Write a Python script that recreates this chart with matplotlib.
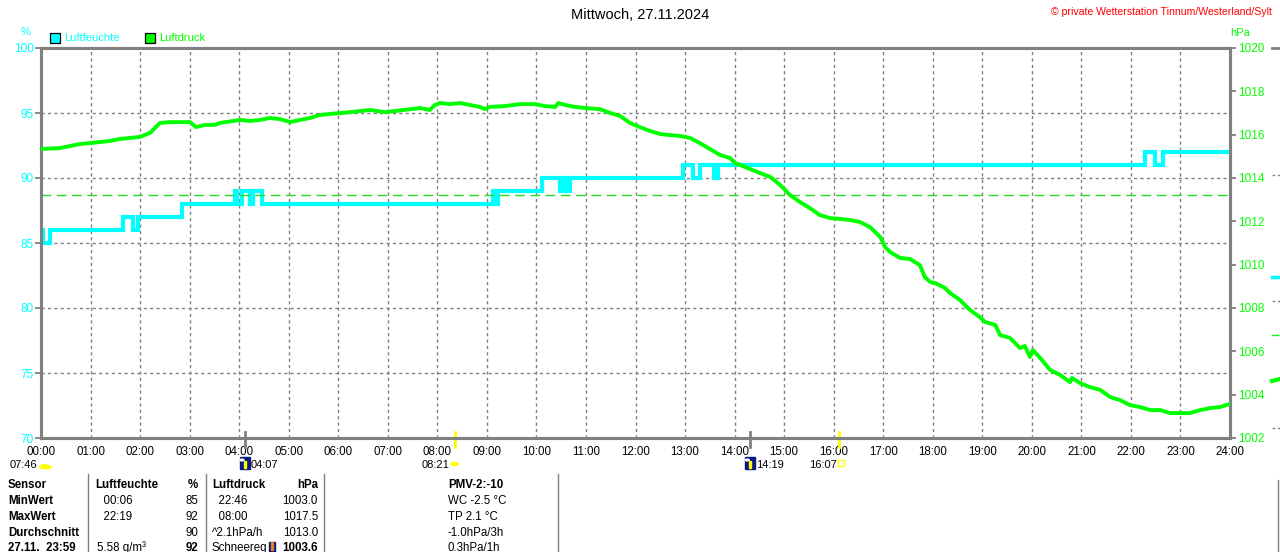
import matplotlib
matplotlib.use("Agg")
import matplotlib.pyplot as plt
from matplotlib.patches import Rectangle, Circle, Wedge
from matplotlib.lines import Line2D

plt.rcParams['font.family'] = ['Liberation Sans', 'DejaVu Sans']

# ---------------- data ----------------
title = "Mittwoch, 27.11.2024"
copyright_text = "© private Wetterstation Tinnum/Westerland/Sylt"

hour_labels = ["%02d:00" % h for h in range(25)]
hum_ticks = [70, 75, 80, 85, 90, 95, 100]
pres_ticks = [1002, 1004, 1006, 1008, 1010, 1012, 1014, 1016, 1018, 1020]

# Luftfeuchte (%) – step series, time in hours
hum_t = [0, 0.04, 0.18, 1.655, 1.857, 1.958, 2.846, 3.916, 3.956, 4.057, 4.219,
         4.28, 4.461, 9.124, 9.164, 9.225, 10.113, 10.477, 10.55, 10.6, 10.678,
         12.959, 13.161, 13.302, 13.585, 13.666, 22.285, 22.487, 22.648, 24.0]
hum_v = [86, 85, 86, 87, 86, 87, 88, 89, 88, 89, 88,
         89, 88, 89, 88, 89, 90, 89, 90, 89, 90,
         91, 90, 91, 90, 91, 92, 91, 92, 92]

# Luftdruck (hPa), time in hours
pres_t = [0.00, 0.38, 0.59, 0.79, 0.99, 1.19, 1.39, 1.59, 1.80, 2.00, 2.20, 2.30,
          2.40, 2.60, 3.01, 3.13, 3.31, 3.51, 3.61, 4.02, 4.22, 4.42, 4.62, 4.82,
          5.03, 5.23, 5.43, 5.63, 6.04, 6.24, 6.64, 6.94, 7.15, 7.65, 7.85, 7.95,
          8.05, 8.26, 8.46, 8.66, 8.86, 8.96, 9.06, 9.37, 9.67, 9.97, 10.17, 10.38,
          10.44, 10.58, 10.78, 10.98, 11.28, 11.49, 11.69, 11.89, 12.09, 12.29,
          12.50, 12.70, 12.90, 13.10, 13.30, 13.50, 13.71, 13.91, 14.01, 14.21,
          14.51, 14.72, 14.92, 15.12, 15.32, 15.52, 15.72, 15.93, 16.13, 16.33,
          16.53, 16.73, 16.94, 17.04, 17.14, 17.34, 17.54, 17.74, 17.84, 17.95,
          18.05, 18.25, 18.35, 18.55, 18.75, 18.95, 19.06, 19.26, 19.36, 19.56,
          19.76, 19.86, 19.96, 20.02, 20.17, 20.37, 20.57, 20.77, 20.81, 20.97,
          21.17, 21.38, 21.58, 21.78, 21.98, 22.18, 22.39, 22.59, 22.79, 22.99,
          23.19, 23.40, 23.60, 23.80, 24.00]
pres_v = [1015.34, 1015.38, 1015.48, 1015.57, 1015.61, 1015.66, 1015.71, 1015.80,
          1015.85, 1015.90, 1016.08, 1016.31, 1016.54, 1016.58, 1016.58, 1016.35,
          1016.45, 1016.45, 1016.54, 1016.68, 1016.63, 1016.68, 1016.77, 1016.72,
          1016.58, 1016.68, 1016.77, 1016.91, 1017.00, 1017.04, 1017.14, 1017.04,
          1017.09, 1017.23, 1017.14, 1017.37, 1017.46, 1017.41, 1017.46, 1017.37,
          1017.28, 1017.18, 1017.28, 1017.32, 1017.41, 1017.41, 1017.32, 1017.28,
          1017.46, 1017.37, 1017.28, 1017.23, 1017.18, 1017.00, 1016.86, 1016.54,
          1016.35, 1016.17, 1016.03, 1015.98, 1015.94, 1015.85, 1015.61, 1015.34,
          1015.06, 1014.92, 1014.69, 1014.51, 1014.23, 1014.05, 1013.68, 1013.21,
          1012.89, 1012.61, 1012.29, 1012.15, 1012.11, 1012.06, 1011.97, 1011.74,
          1011.28, 1010.81, 1010.58, 1010.31, 1010.26, 1009.98, 1009.43, 1009.20,
          1009.15, 1008.92, 1008.69, 1008.37, 1007.91, 1007.58, 1007.35, 1007.22,
          1006.75, 1006.62, 1006.15, 1006.25, 1005.74, 1006.06, 1005.69, 1005.14,
          1004.91, 1004.58, 1004.77, 1004.54, 1004.35, 1004.22, 1003.89, 1003.75,
          1003.52, 1003.43, 1003.29, 1003.29, 1003.15, 1003.15, 1003.15, 1003.29,
          1003.38, 1003.43, 1003.57]

pres_avg_line = 1013.2

# astronomical events (hours)
sun_events = [8.35, 16.117]          # 08:21, 16:07
moon_events = [4.117, 14.317]        # 04:07, 14:19

# table
table_rows = [
    ["Sensor", "Luftfeuchte", "%", "Luftdruck", "hPa", "PMV-2:-10"],
    ["MinWert", "  00:06", "85", "  22:46", "1003.0", "WC -2.5 °C"],
    ["MaxWert", "  22:19", "92", "  08:00", "1017.5", "TP 2.1 °C"],
    ["Durchschnitt", "", "90", "^2.1hPa/h", "1013.0", "-1.0hPa/3h"],
    ["27.11.  23:59", "5.58 g/m³", "92", "Schneereg", "1003.6", "0.3hPa/1h"],
]

# ---------------- styling helpers ----------------
W, H = 1280, 552
GREY = '#808080'
CYAN = '#00ffff'
GREEN = '#00ff00'


def F(px, py):
    return (px / W, 1 - py / H)


fig = plt.figure(figsize=(W / 100, H / 100), dpi=100)
fig.patch.set_facecolor('white')

ax = fig.add_axes([41 / W, (H - 438) / H, 1189 / W, 390 / H])
ax.set_xlim(0, 24)
ax.set_ylim(70, 100)
ax2 = ax.twinx()
ax2.set_ylim(1002, 1020)
ax2.set_xlim(0, 24)

for a in (ax, ax2):
    for s in a.spines.values():
        s.set_color(GREY)
        s.set_linewidth(2.2)

# grid
for h in range(1, 24):
    ax.axvline(h, color=GREY, lw=1, ls=(0, (2.3, 2.3)), zorder=1)
for v in [75, 80, 85, 90, 95]:
    ax.axhline(v, color=GREY, lw=1, ls=(0, (2.3, 2.3)), zorder=1)

ax.set_xticks(range(25))
ax.set_xticklabels(hour_labels)
ax.tick_params(axis='x', length=0, pad=6, labelsize=8.3, labelcolor='black')
ax.set_yticks(hum_ticks)
ax.tick_params(axis='y', length=4, width=1.3, color=GREY, labelcolor=CYAN,
               labelsize=8.5, pad=1, direction='out')
ax2.set_yticks(pres_ticks)
ax2.tick_params(axis='y', length=4, width=1.3, color=GREY, labelcolor=GREEN,
                labelsize=8.5, pad=2, direction='out')

# data lines
ax.plot(hum_t, hum_v, drawstyle='steps-post', color=CYAN, lw=3.0,
        solid_joinstyle='miter', zorder=3)
ax2.axhline(pres_avg_line, color='#22dd22', lw=1.0, ls=(0, (7, 4)), zorder=2)
ax2.plot(pres_t, pres_v, color=GREEN, lw=2.8, zorder=4)

# sun / moon markers below the axis
xt = ax.get_xaxis_transform()
for t in sun_events:
    ax.plot([t, t], [0.016, -0.024], transform=xt, color='#ffff00', lw=2,
            clip_on=False, zorder=5)
for t in moon_events:
    ax.plot([t, t], [0.016, -0.024], transform=xt, color=GREY, lw=2,
            clip_on=False, zorder=5)

fig.canvas.draw()


def xpix(t):
    return ax.transData.transform((t, 70))[0] * W / fig.bbox.width


ROW_Y = 464.5
EVF = 8.0
# 07:46 label and half sun at left
fig.text(*F(10, ROW_Y), "07:46", fontsize=EVF, va='center', ha='left')
fig.add_artist(Wedge(F(45, 467), 5 / W, 0, 180, color='#ffff00',
                     transform=fig.transFigure))
fig.add_artist(Rectangle(F(40, 468), 10 / W, 2 / H, color='#ffff00',
                         transform=fig.transFigure))

# moon icons
for t, lab in zip(moon_events, ["04:07", "14:19"]):
    px = xpix(t)
    fig.add_artist(Rectangle(F(px - 5, 469), 10 / W, 12 / H, color='#0a1a80',
                             transform=fig.transFigure))
    fig.add_artist(Rectangle(F(px - 1, 468), 2 / W, 7 / H, color='#ffff00',
                             transform=fig.transFigure))
    fig.add_artist(Circle(F(px - 3, 460), 2 / W, color='white',
                          transform=fig.transFigure))
    fig.text(*F(px + 6, ROW_Y), lab, fontsize=EVF, va='center', ha='left')

# sunrise / sunset icons
px = xpix(sun_events[0])
fig.add_artist(Circle(F(px, 464), 3.5 / W, color='#ffff00', transform=fig.transFigure))
fig.text(*F(px - 5, ROW_Y), "08:21", fontsize=EVF, va='center', ha='right')
px = xpix(sun_events[1])
fig.add_artist(Rectangle(F(px - 1, 466), 6 / W, 6 / H, fill=False, ec='#ffff00',
                         lw=1, transform=fig.transFigure))
fig.text(*F(px - 3, ROW_Y), "16:07", fontsize=EVF, va='center', ha='right')

# titles / axis labels / legend
fig.text(*F(640, 15), title, fontsize=10.5, ha='center', va='center')
fig.text(*F(1272, 12), copyright_text, fontsize=7.6, ha='right', va='center',
         color='#ff0000')
fig.text(*F(26, 32), "%", fontsize=8, ha='center', va='center', color=CYAN)
fig.text(*F(1230, 33), "hPa", fontsize=8, ha='left', va='center', color=GREEN)

fig.add_artist(Rectangle(F(50, 43), 10 / W, 10 / H, fc=CYAN, ec='black', lw=0.9,
                         transform=fig.transFigure))
fig.text(*F(64, 38), "Luftfeuchte", fontsize=8, ha='left', va='center', color=CYAN)
fig.add_artist(Rectangle(F(145, 43), 10 / W, 10 / H, fc=GREEN, ec='black', lw=0.9,
                         transform=fig.transFigure))
fig.text(*F(159, 38), "Luftdruck", fontsize=8, ha='left', va='center', color=GREEN)

# outside marks on the right edge
def fline(x0, x1, y0, y1, **kw):
    fig.add_artist(Line2D([x0 / W, x1 / W], [1 - y0 / H, 1 - y1 / H],
                          transform=fig.transFigure, **kw))

fline(1272, 1280, 48, 48, color=GREY, lw=2)
fline(1272, 1280, 175, 175, color=GREY, lw=1, ls=(0, (2, 2)))
fline(1272, 1280, 277, 277, color=CYAN, lw=2.5)
fline(1272, 1280, 301, 301, color=GREY, lw=1, ls=(0, (2, 2)))
fline(1272, 1278, 335, 335, color=GREEN, lw=1)
fline(1272, 1280, 381, 379, color=GREEN, lw=3)
fline(1272, 1280, 428, 428, color=GREY, lw=1, ls=(0, (2, 2)))

# table
row_y = [485, 501, 517, 533, 548]
for i, (row, y) in enumerate(zip(table_rows, row_y)):
    hdr = (i == 0)
    fig.text(*F(8, y), row[0], fontsize=8.3, fontweight='bold', va='center')
    fig.text(*F(95 if hdr else 97, y), row[1], fontsize=8.3,
             fontweight='bold' if hdr else 'normal', va='center')
    fig.text(*F(198, y), row[2], fontsize=8.3,
             fontweight='bold' if (hdr or i == 4) else 'normal', va='center', ha='right')
    fig.text(*F(212, y), row[3], fontsize=8.3,
             fontweight='bold' if hdr else 'normal', va='center')
    fig.text(*F(318, y), row[4], fontsize=8.3,
             fontweight='bold' if (hdr or i == 4) else 'normal', va='center', ha='right')
    fig.text(*F(448, y), row[5], fontsize=8.3,
             fontweight='bold' if hdr else 'normal', va='center')

# icon in the last row (Schneeregen)
fig.add_artist(Rectangle(F(269, 552), 6 / W, 10 / H, color='#0a1a80',
                         transform=fig.transFigure))
fig.add_artist(Rectangle(F(271, 550), 2 / W, 8 / H, color='#e08020',
                         transform=fig.transFigure))

for xs in [88, 206, 324, 558]:
    fline(xs, xs, 474, 552, color=GREY, lw=1)
fline(1278, 1278, 480, 552, color=GREY, lw=1)

fig.savefig("out.png", dpi=100)
